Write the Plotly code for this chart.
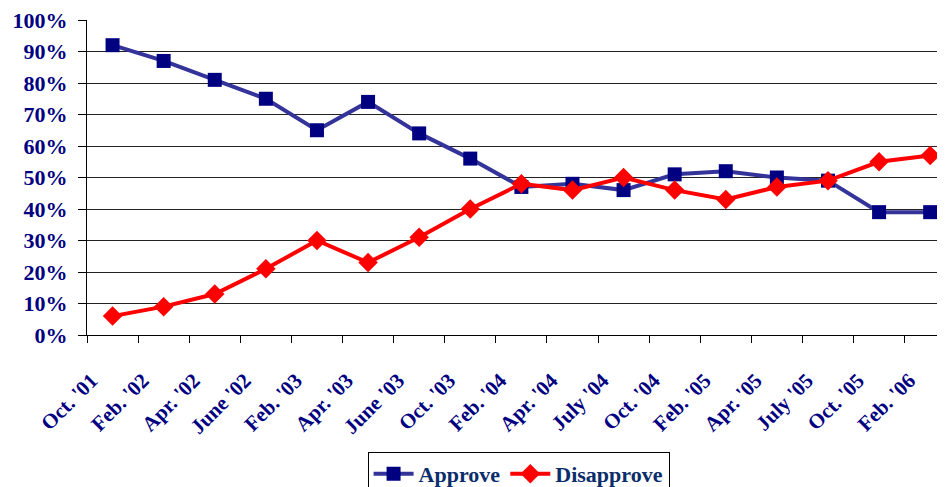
import plotly.graph_objects as go

categories = ["Oct. '01", "Feb. '02", "Apr. '02", "June '02", "Feb. '03", "Apr. '03",
              "June '03", "Oct. '03", "Feb. '04", "Apr. '04", "July '04", "Oct. '04",
              "Feb. '05", "Apr. '05", "July '05", "Oct. '05", "Feb. '06"]
approve = [92, 87, 81, 75, 65, 74, 64, 56, 47, 48, 46, 51, 52, 50, 49, 39, 39]
disapprove = [6, 9, 13, 21, 30, 23, 31, 40, 48, 46, 50, 46, 43, 47, 49, 55, 57]
y_ticks = [0, 10, 20, 30, 40, 50, 60, 70, 80, 90, 100]
y_labels = [f"{v}%" for v in y_ticks]

font_family = "Liberation Serif, Times New Roman, serif"
navy = "#000080"

fig = go.Figure()
fig.add_trace(go.Scatter(
    x=categories, y=approve, name="Approve", mode="lines+markers",
    line=dict(color="#333399", width=4),
    marker=dict(symbol="square", size=14, color=navy),
))
fig.add_trace(go.Scatter(
    x=categories, y=disapprove, name="Disapprove", mode="lines+markers",
    line=dict(color="#FF0000", width=4),
    marker=dict(symbol="diamond", size=15, color="#FF0000"),
))

fig.update_layout(
    width=945, height=487,
    margin=dict(l=79, r=8, t=12, b=160, autoexpand=False),
    paper_bgcolor="white", plot_bgcolor="white",
    font=dict(family=font_family, color=navy, weight="bold"),
    showlegend=True,
    legend=dict(
        orientation="h", x=0.503, xanchor="center", y=-0.371, yanchor="top",
        bordercolor="#000000", borderwidth=1, bgcolor="white",
        font=dict(family=font_family, size=22, color="#0b2d6b", weight="bold"),
        itemwidth=40,
    ),
)
fig.update_xaxes(
    type="category", range=[-0.5, 16.29], automargin=False,
    showline=True, linecolor="#000000", linewidth=1,
    ticks="outside", ticklen=7, tickcolor="#000000", tickson="boundaries",
    showgrid=False, tickangle=-45,
    tickfont=dict(family=font_family, size=21, color=navy, weight="bold"),
    ticklabelshift=-21, ticklabelstandoff=24,
)
fig.update_yaxes(
    range=[0, 100], tickvals=y_ticks, ticktext=y_labels, automargin=False,
    showline=True, linecolor="#000000", linewidth=1,
    ticks="outside", ticklen=8, tickcolor="#000000",
    showgrid=True, gridcolor="#222222", gridwidth=1, zeroline=False,
    tickfont=dict(family=font_family, size=22, color=navy, weight="bold"),
    ticklabelstandoff=6, ticklabeloverflow="allow",
)

fig.write_html("out.html")
